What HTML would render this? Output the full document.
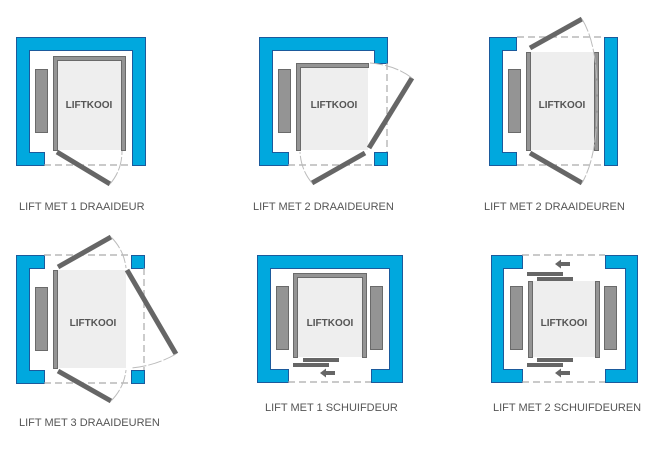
<!DOCTYPE html>
<html><head><meta charset="utf-8"><style>
html,body{margin:0;padding:0;background:#fff;}
svg{display:block;}
.w{fill:#00a8de;stroke:#1b5a9c;stroke-width:1;}
.g{fill:#949494;stroke:#6a6a6a;stroke-width:1;}
.f{fill:#eeeeee;}
.d{stroke:#666;stroke-width:5;fill:none;}
.ds{stroke:#aaa;stroke-width:1.2;stroke-dasharray:7,4;fill:none;}
.a{stroke:#bbb;stroke-width:1;fill:none;stroke-dasharray:14,2;}
.b{fill:#666;}
.t{font-family:"Liberation Sans",Arial,sans-serif;font-size:11px;fill:#555;}
.k{font-family:"Liberation Sans",Arial,sans-serif;font-size:10px;font-weight:bold;fill:#555;text-anchor:middle;}
</style></head><body>
<svg width="650" height="450" viewBox="0 0 650 450" xmlns="http://www.w3.org/2000/svg">
<!-- Panel 1 -->
<path class="w" d="M16.5,37.5H145.5V165.5H132.5V50.5H29.5V152.5H44.5V165.5H16.5Z"/>
<line class="ds" x1="44" y1="165" x2="132" y2="165"/>
<rect class="g" x="35.5" y="69.5" width="12" height="63"/>
<rect class="f" x="57" y="60" width="64" height="90"/>
<path class="g" d="M53.5,150.5V56.5H125.5V150.5H121.5V60.5H57.5V150.5Z"/>
<line class="d" x1="57" y1="152" x2="110" y2="184"/>
<path class="a" d="M110,184 Q122,170 122,151"/>
<text class="k" x="89" y="108">LIFTKOOI</text>
<text class="t" x="19" y="210">LIFT MET 1 DRAAIDEUR</text>

<!-- Panel 2 -->
<path class="w" d="M259.5,37.5H387.5V63.5H374.5V50.5H272.5V152.5H288.5V165.5H259.5Z"/>
<rect class="w" x="374.5" y="152.5" width="13" height="13"/>
<line class="ds" x1="288" y1="165" x2="374" y2="165"/>
<line class="ds" x1="387" y1="63" x2="387" y2="152"/>
<rect class="g" x="278.5" y="69.5" width="12" height="63"/>
<rect class="f" x="300" y="67" width="68" height="83"/>
<path class="g" d="M296.5,150.5V63.5H368.5V67.5H300.5V150.5Z"/>
<line class="d" x1="369" y1="148" x2="412" y2="78"/>
<line class="d" x1="365" y1="153" x2="312" y2="183"/>
<path class="a" d="M412,78 Q395,65 370,63"/>
<path class="a" d="M312,183 Q301,170 300,152"/>
<text class="k" x="334" y="108">LIFTKOOI</text>
<text class="t" x="253" y="210">LIFT MET 2 DRAAIDEUREN</text>

<!-- Panel 3 -->
<path class="w" d="M489.5,37.5H516.5V50.5H502.5V152.5H516.5V165.5H489.5Z"/>
<rect class="w" x="604.5" y="37.5" width="13" height="128"/>
<line class="ds" x1="517" y1="37" x2="604" y2="37"/>
<line class="ds" x1="517" y1="165" x2="604" y2="165"/>
<rect class="g" x="508.5" y="69.5" width="12" height="63"/>
<rect class="f" x="530" y="52" width="64" height="98"/>
<rect class="g" x="526.5" y="52.5" width="4" height="98"/>
<rect class="g" x="594.5" y="52.5" width="4" height="98"/>
<line class="d" x1="530" y1="48" x2="582" y2="19"/>
<line class="d" x1="530" y1="153" x2="582" y2="183"/>
<path class="a" d="M582,19 Q598,45 597,100 Q598,155 582,183"/>
<text class="k" x="562" y="108">LIFTKOOI</text>
<text class="t" x="484" y="210">LIFT MET 2 DRAAIDEUREN</text>

<!-- Panel 4 -->
<path class="w" d="M16.5,255.5H44.5V268.5H29.5V370.5H44.5V383.5H16.5Z"/>
<rect class="w" x="131.5" y="255.5" width="13" height="13"/>
<rect class="w" x="131.5" y="370.5" width="13" height="13"/>
<line class="ds" x1="44" y1="255" x2="131" y2="255"/>
<line class="ds" x1="44" y1="383" x2="131" y2="383"/>
<line class="ds" x1="144" y1="268" x2="144" y2="370"/>
<rect class="g" x="35.5" y="287.5" width="12" height="63"/>
<rect class="f" x="57" y="270" width="69" height="98"/>
<rect class="g" x="53.5" y="270.5" width="4" height="98"/>
<line class="d" x1="58" y1="267" x2="111" y2="237"/>
<line class="d" x1="127" y1="270" x2="176" y2="354"/>
<line class="d" x1="58" y1="371" x2="111" y2="401"/>
<path class="a" d="M111,237 Q124,250 126,268"/>
<path class="a" d="M176,354 Q155,366 131,368"/>
<path class="a" d="M111,401 Q124,388 126,370"/>
<text class="k" x="93" y="326">LIFTKOOI</text>
<text class="t" x="19" y="426">LIFT MET 3 DRAAIDEUREN</text>

<!-- Panel 5 -->
<path class="w" d="M257.5,255.5H402.5V382.5H371.5V369.5H389.5V268.5H270.5V369.5H288.5V382.5H257.5Z"/>
<line class="ds" x1="288" y1="382" x2="371" y2="382"/>
<rect class="g" x="276.5" y="286.5" width="12" height="63"/>
<rect class="g" x="370.5" y="286.5" width="12" height="63"/>
<rect class="f" x="297" y="277" width="65" height="80"/>
<path class="g" d="M293.5,357.5V273.5H366.5V357.5H362.5V277.5H297.5V357.5Z"/>
<rect class="b" x="303" y="358" width="36" height="4"/>
<rect class="b" x="293" y="363" width="36" height="4"/>
<path class="b" d="M320,373 L326,368.5V371H335V375H326V377.5Z"/>
<text class="k" x="330" y="326">LIFTKOOI</text>
<text class="t" x="265" y="411">LIFT MET 1 SCHUIFDEUR</text>

<!-- Panel 6 -->
<path class="w" d="M491.5,255.5H522.5V268.5H503.5V369.5H522.5V382.5H491.5Z"/>
<path class="w" d="M605.5,255.5H637.5V382.5H605.5V369.5H625.5V268.5H605.5Z"/>
<line class="ds" x1="522" y1="255" x2="605" y2="255"/>
<line class="ds" x1="522" y1="382" x2="605" y2="382"/>
<rect class="g" x="510.5" y="286.5" width="12" height="63"/>
<rect class="g" x="604.5" y="286.5" width="12" height="63"/>
<rect class="f" x="532" y="281" width="63" height="76"/>
<rect class="g" x="528.5" y="281.5" width="4" height="76"/>
<rect class="g" x="595.5" y="281.5" width="4" height="76"/>
<rect class="b" x="527" y="272" width="36" height="4"/>
<rect class="b" x="537" y="277" width="36" height="4"/>
<rect class="b" x="537" y="358" width="36" height="4"/>
<rect class="b" x="527" y="363" width="36" height="4"/>
<path class="b" d="M555,264 L561,259.5V262H570V266H561V268.5Z"/>
<path class="b" d="M555,373 L561,368.5V371H570V375H561V377.5Z"/>
<text class="k" x="564" y="326">LIFTKOOI</text>
<text class="t" x="493" y="411">LIFT MET 2 SCHUIFDEUREN</text>
</svg>
</body></html>
